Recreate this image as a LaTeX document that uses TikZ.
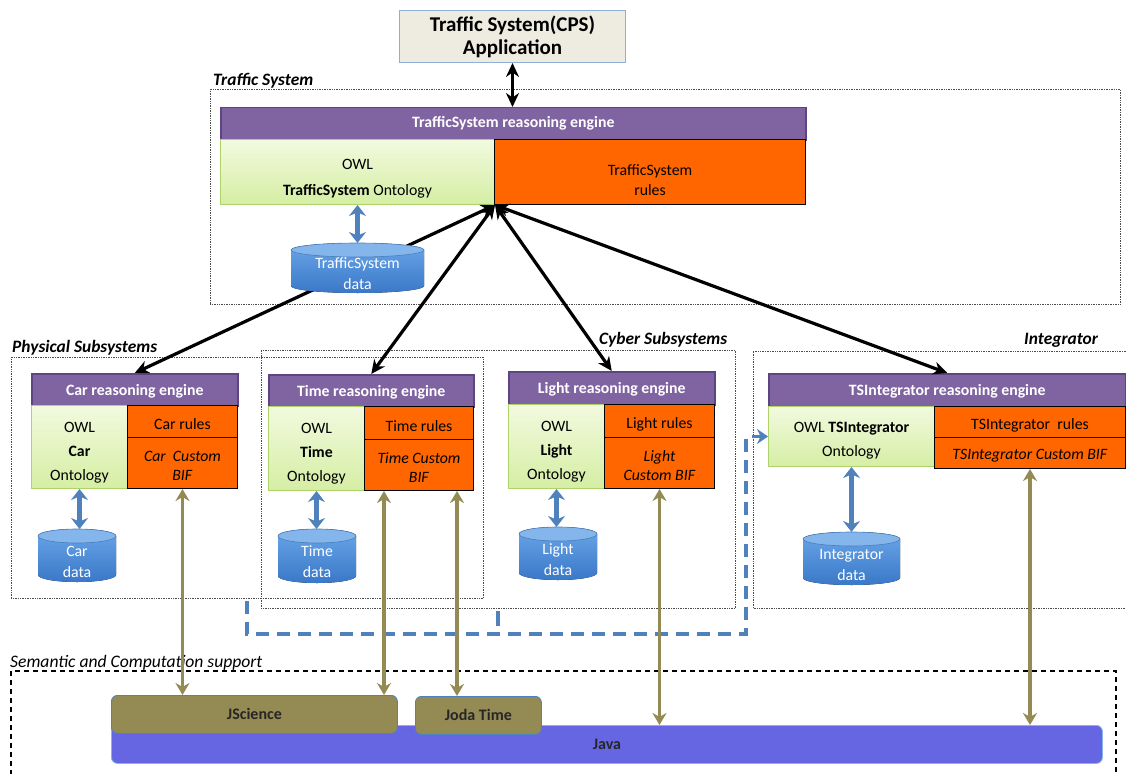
\documentclass[tikz,border=0pt]{standalone}
\usepackage{fontspec}
\setmainfont{Carlito}
\usetikzlibrary{arrows.meta}
\definecolor{purpC}{HTML}{8064A2}
\definecolor{purpD}{HTML}{5C4682}
\definecolor{grnT}{HTML}{F2FADF}
\definecolor{grnB}{HTML}{D5EEA3}
\definecolor{grnD}{HTML}{AED36A}
\definecolor{orgC}{HTML}{FF6600}
\definecolor{cylT}{HTML}{6AA6E8}
\definecolor{cylB}{HTML}{3A78C8}
\definecolor{cylTop}{HTML}{84B6EC}
\definecolor{cylD}{HTML}{4A7EBB}
\definecolor{blueA}{HTML}{4F81BD}
\definecolor{oliveC}{HTML}{948A54}
\definecolor{javaC}{HTML}{6666E3}
\definecolor{appC}{HTML}{EEECE1}
\definecolor{appD}{HTML}{8EAEDB}
\newcommand{\fs}{\fontsize{15.8}{19}\selectfont}
\newcommand{\fl}{\fontsize{17.4}{20}\selectfont}
\newcommand{\dn}[1]{\rule{0pt}{#1pt}}
\newcommand{\bx}[7]{\node[#1,anchor=north west,minimum width={#5-#3},minimum height={#6-#4}] (#2) at (#3,#4) {#7};}
\newcommand{\cyl}[6]{%
 \fill[top color=cylT,bottom color=cylB] ({#2},{#3+7}) -- ({#2},{#5-7}) arc[start angle=180,end angle=0,x radius={(#4-#2)/2},y radius=7] -- ({#4},{#3+7}) arc[start angle=0,end angle=-180,x radius={(#4-#2)/2},y radius=7] -- cycle;
 \filldraw[fill=cylTop,draw=cylD,line width=0.6pt] ({(#2+#4)/2},{#3+7}) ellipse [x radius={(#4-#2)/2},y radius=7];
 \node[inner sep=0pt,anchor=north west,minimum width={#4-#2},minimum height={#5-#3}] (#1) at (#2,#3) {};
 \node[cyltxt] (#1t) at ({(#2+#4)/2},{(#3+#5)/2+6}) {#6};}
\tikzset{
 purp/.style={fill=purpC,draw=purpD,line width=1.5pt,text=white,font=\fs\bfseries,inner sep=0pt},
 grn/.style={top color=grnT,bottom color=grnB,draw=grnD,line width=1pt,align=center,font=\fs,inner sep=0pt},
 org/.style={fill=orgC,draw=black,line width=1pt,align=center,font=\fs,inner sep=0pt},
 cyltxt/.style={text=white,font=\fs,align=center,inner sep=0pt},
 frame/.style={draw=black!70,densely dotted,line width=0.7pt,inner sep=0pt},
 sframe/.style={draw=black,line width=1.3pt,dash pattern=on 5pt off 4pt},
 lbl/.style={font=\fl\bfseries\itshape,inner sep=0pt,anchor=base west},
 slbl/.style={font=\fontsize{17.6}{20}\selectfont\itshape,inner sep=0pt,anchor=base west},
 appb/.style={fill=appC,draw=appD,line width=1pt,align=center,font=\fontsize{21}{23}\selectfont\bfseries,inner sep=0pt},
 oliveb/.style={fill=oliveC,draw=blueA,line width=0.8pt,rounded corners=6pt,font=\fontsize{16}{19}\selectfont\bfseries,text=black!85,inner sep=0pt},
 javab/.style={fill=javaC,draw=cylTop,line width=0.8pt,rounded corners=6pt,font=\fontsize{16}{19}\selectfont\bfseries,text=black!85,inner sep=0pt},
 blk/.style={line width=3.2pt,arrows={Stealth[length=14pt,width=13pt]-Stealth[length=14pt,width=13pt]}},
 barr/.style={blueA,line width=4.5pt,arrows={Stealth[length=11pt,width=17pt]-Stealth[length=11pt,width=17pt]}},
 olv/.style={oliveC,line width=3.2pt,arrows={Stealth[length=12pt,width=14pt]-Stealth[length=12pt,width=14pt]}},
 bdash/.style={blueA,line width=3.5pt,dash pattern=on 13pt off 8pt,arrows={-Stealth[length=11pt,width=15pt]}},
}
\begin{document}
\begin{tikzpicture}[x=1pt,y=-1pt]
\useasboundingbox (0,0) rectangle (1126,773);
% frames
\bx{frame}{tsframe}{210}{89}{1120}{304}{}
\bx{frame}{physframe}{11}{357}{483}{598}{}
\bx{frame}{cyberframe}{261}{350}{735}{608}{}
\draw[frame] (1126,351) -- (753,351) -- (753,608) -- (1126,608);
\draw[sframe] (11,775) -- (11,671) -- (1116,671) -- (1116,775);
\node[lbl] (tslbl) at (213,86) {Traffic System};
\node[lbl] (physlbl) at (12,352) {Physical Subsystems};
\node[lbl] (cyberlbl) at (599,344) {Cyber Subsystems};
\node[lbl] (intlbl) at (1024,344) {Integrator};
\node[slbl] (semlbl) at (10,667) {Semantic and Computation support};
% top
\bx{appb}{app}{399}{10}{625}{62}{Traffic System(CPS)\\Application}
\bx{purp}{tseng}{220}{107}{805}{139}{TrafficSystem reasoning engine}
\bx{grn}{tsowl}{220}{139}{494}{204}{\dn{23}OWL\\[7pt]\textbf{TrafficSystem} Ontology}
\bx{org}{tsrules}{494}{139}{805}{204}{\dn{28}TrafficSystem\\[1pt]rules}
\coordinate (hub) at (tsowl.south east);
\draw[blk] (app.south) -- (app.south |- tseng.north);
% subsystems
\bx{purp}{careng}{31}{373}{237}{405}{\dn{14}Car reasoning engine}
\bx{grn}{carowl}{31}{405}{127}{488}{\dn{21}OWL\\[5pt]\textbf{Car}\\[5pt]Ontology}
\bx{org}{carrules}{127}{405}{237}{437}{\dn{17}Car rules}
\bx{org}{carbif}{127}{437}{237}{488}{\dn{16}\textit{Car\ \ Custom}\\\textit{BIF}}
\bx{purp}{timeeng}{268}{374}{473}{406}{\dn{14}Time reasoning engine}
\bx{grn}{timeowl}{268}{406}{364}{490}{\dn{21}OWL\\[5pt]\textbf{Time}\\[5pt]Ontology}
\bx{org}{timerules}{364}{406}{473}{439}{\dn{17}Time rules}
\bx{org}{timebif}{364}{439}{473}{490}{\dn{16}\textit{Time Custom}\\\textit{BIF}}
\bx{purp}{lighteng}{508}{371}{714}{404}{\dn{14}Light reasoning engine}
\bx{grn}{lightowl}{508}{404}{604}{488}{\dn{21}OWL\\[5pt]\textbf{Light}\\[5pt]Ontology}
\bx{org}{lightrules}{604}{404}{714}{437}{\dn{17}Light rules}
\bx{org}{lightbif}{604}{437}{714}{488}{\dn{16}\textit{Light}\\\textit{Custom BIF}}
\bx{purp}{tsieng}{768}{373}{1125}{406}{\dn{14}TSIntegrator reasoning engine}
\bx{grn}{tsiowl}{768}{406}{934}{466}{\dn{19}OWL \textbf{TSIntegrator}\\[5pt]Ontology}
\bx{org}{tsirules}{934}{406}{1125}{437}{\dn{17}TSIntegrator\ \ rules}
\bx{org}{tsibif}{934}{437}{1125}{468}{\dn{16}\textit{TSIntegrator Custom BIF}}
% hub connectors
\draw[blk] (careng.north) -- (hub);
\draw[blk] (timeeng.north) -- (hub);
\draw[blk] (lighteng.north) -- (hub);
\draw[blk] (tsieng.north) -- (hub);
% data stores
\cyl{tsdata}{291}{243}{424}{293}{TrafficSystem\\[2pt]data}
\cyl{cardata}{38}{529}{116}{582}{Car\\[2pt]data}
\cyl{timedata}{278}{529}{356}{583}{Time\\[2pt]data}
\cyl{lightdata}{519}{527}{597}{580}{Light\\[2pt]data}
\cyl{tsidata}{803}{532}{900}{585}{Integrator\\[2pt]data}
\draw[barr] (tsowl.south) -- (tsowl.south |- tsdata.north);
\draw[barr] (carowl.south) -- (carowl.south |- cardata.north);
\draw[barr] (timeowl.south) -- (timeowl.south |- timedata.north);
\draw[barr] (lightowl.south) -- (lightowl.south |- lightdata.north);
\draw[barr] (tsiowl.south) -- (tsiowl.south |- tsidata.north);
% blue dashed link
\coordinate (d1) at (247,601);
\coordinate (d2) at (746,634);
\coordinate (d3) at (498,611);
\coordinate (d4) at (498,626);
\draw[bdash] (d1) |- (d2) |- (tsiowl.west);
\draw[blueA,line width=3.5pt] (d3) -- (d4);
% support layer
\bx{javab}{java}{111}{725}{1102}{763}{Java}
\bx{oliveb}{jsci}{111}{695}{397}{733}{JScience}
\bx{oliveb}{joda}{415}{696}{541}{734}{Joda Time}
\draw[olv] (carbif.south) -- (carbif.south |- jsci.north);
\draw[olv] ([xshift=-35pt]timebif.south) -- ([xshift=-35pt]timebif.south |- jsci.north);
\draw[olv] ([xshift=38pt]timebif.south) -- ([xshift=38pt]timebif.south |- joda.north);
\draw[olv] (lightbif.south) -- (lightbif.south |- java.north);
\draw[olv] (tsibif.south) -- (tsibif.south |- java.north);
\end{tikzpicture}
\end{document}
